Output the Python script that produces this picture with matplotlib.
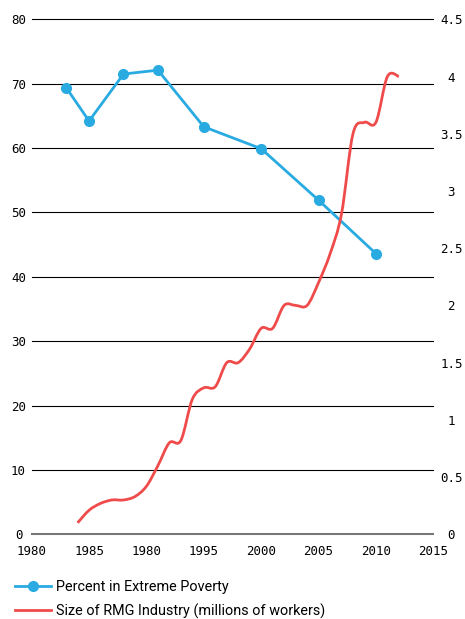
import numpy as np
import matplotlib
matplotlib.use('Agg')
import matplotlib.pyplot as plt
from matplotlib.path import Path
from matplotlib.patches import PathPatch
from matplotlib.lines import Line2D

# poverty series (left axis)
pov_years = [1983, 1985, 1988, 1991, 1995, 2000, 2005, 2010]
pov_values = [69.4, 64.2, 71.5, 72.1, 63.3, 59.9, 51.9, 43.6]

# garment industry size (right axis, millions of workers)
rmg_years = list(range(1984, 2013))
rmg_values = [0.10, 0.21, 0.27, 0.30, 0.30, 0.33, 0.42, 0.60, 0.80, 0.82,
              1.18, 1.28, 1.29, 1.50, 1.50, 1.62, 1.80, 1.80, 2.00, 2.00,
              2.00, 2.20, 2.45, 2.80, 3.50, 3.60, 3.60, 4.00, 4.00]

x_ticks = [1980, 1985, 1990, 1995, 2000, 2005, 2010, 2015]
x_labels = ['1980', '1985', '1980', '1995', '2000', '2005', '2010', '2015']
left_ticks = [0, 10, 20, 30, 40, 50, 60, 70, 80]
right_ticks = [0, 0.5, 1, 1.5, 2, 2.5, 3, 3.5, 4, 4.5]
right_labels = ['0', '0.5', '1', '1.5', '2', '2.5', '3', '3.5', '4', '4.5']

BLUE = '#29abe2'
RED = '#ef4b4b'
MONO = 'DejaVu Sans Mono'

fig = plt.figure(figsize=(4.65, 6.19), dpi=100)
ax = fig.add_axes([31.7/465, 1-534.3/619, (433.3-31.7)/465, 515/619])
ax2 = ax.twinx()

for a in (ax, ax2):
    for s in a.spines.values():
        s.set_visible(False)

ax.set_xlim(1980, 2015)
ax.set_ylim(0, 80)
ax2.set_ylim(0, 4.5)

ax.set_yticks(left_ticks)
ax.yaxis.grid(True, color='black', lw=0.8)
for gl in ax.get_ygridlines():
    gl.set_clip_on(False)
ax.get_ygridlines()[0].set_color('#777777')
ax.get_ygridlines()[0].set_linewidth(1.5)
ax.set_axisbelow(True)
ax.set_xticks(x_ticks)
ax.set_xticklabels(x_labels)
ax.tick_params(axis='both', length=0, labelsize=9, labelfontfamily=MONO)
ax.tick_params(axis='y', pad=9.5)
ax.tick_params(axis='x', pad=8)
for t in ax.get_yticklabels():
    t.set_ha('center')

ax2.set_yticks(right_ticks)
ax2.set_yticklabels(right_labels)
ax2.tick_params(axis='y', length=0, labelsize=9, labelfontfamily=MONO, pad=13)
for t in ax2.get_yticklabels():
    t.set_ha('center')

ax.plot(pov_years, pov_values, color=BLUE, lw=2, marker='o', ms=7, zorder=3)

# smooth curve through the worker counts (catmull-rom as bezier segments)
pts = np.column_stack([rmg_years, rmg_values]).astype(float)
ext = np.vstack([pts[0], pts, pts[-1]])
verts = [pts[0]]
codes = [Path.MOVETO]
for i in range(len(pts) - 1):
    p0, p1, p2, p3 = ext[i], ext[i+1], ext[i+2], ext[i+3]
    verts += [p1 + (p2 - p0) / 6, p2 - (p3 - p1) / 6, p2]
    codes += [Path.CURVE4] * 3
ax2.add_patch(PathPatch(Path(verts, codes), facecolor='none', edgecolor=RED,
                        lw=2, transform=ax2.transData, zorder=3))

handles = [Line2D([], [], color=BLUE, lw=2, marker='o', ms=7),
           Line2D([], [], color=RED, lw=2)]
fig.legend(handles, ['Percent in Extreme Poverty',
                     'Size of RMG Industry (millions of workers)'],
           loc='upper left', bbox_to_anchor=(3/465, 1-568/619), frameon=False,
           prop={'family': 'Roboto', 'size': 10.4}, handlelength=2.55,
           handletextpad=0.35, labelspacing=0.68, borderpad=0.3)

fig.savefig('out.png', dpi=100)
